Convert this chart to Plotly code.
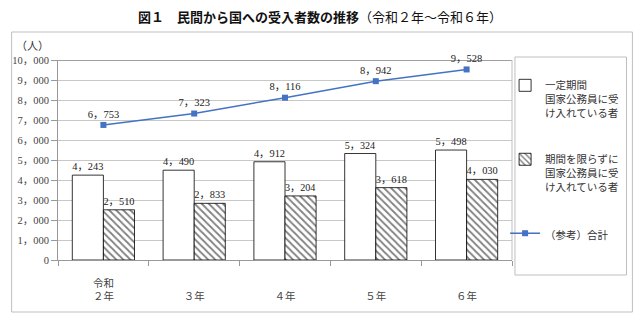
import plotly.graph_objects as go

categories = ["令和２年", "令和３年", "令和４年", "令和５年", "令和６年"]
tick_labels = ["令和<br>２年", "<br>３年", "<br>４年", "<br>５年", "<br>６年"]
fixed_term = [4243, 4490, 4912, 5324, 5498]
open_term = [2510, 2833, 3204, 3618, 4030]
total = [6753, 7323, 8116, 8942, 9528]
y_ticks = list(range(0, 10001, 1000))

name_fixed = "一定期間<br>国家公務員に受<br>け入れている者"
name_open = "期間を限らずに<br>国家公務員に受<br>け入れている者"
name_total = "（参考）合計"

def fmt(v):
    return f"{v:,}".replace(",", "，")

FONT = "Liberation Serif, Noto Sans CJK JP, serif"
CJK = "Noto Sans CJK JP"

fig = go.Figure()
fig.add_trace(go.Bar(
    x=categories, y=fixed_term, name=name_fixed, legendgroup="a",
    marker=dict(color="white", line=dict(color="black", width=0.8)),
    text=[fmt(v) for v in fixed_term], textposition="outside",
    textfont=dict(size=10.5, color="#222", family=FONT), cliponaxis=False,
))
fig.add_trace(go.Bar(
    x=categories, y=open_term, name=name_open, legendgroup="b",
    marker=dict(color="white", line=dict(color="black", width=0.8),
                pattern=dict(shape="\\", fgcolor="black", bgcolor="white", size=5, solidity=0.35)),
    text=[fmt(v) for v in open_term], textposition="outside",
    textfont=dict(size=10.5, color="#222", family=FONT), cliponaxis=False,
))
fig.add_trace(go.Scatter(
    x=categories, y=total, name=name_total, legendgroup="c",
    mode="lines+markers+text",
    line=dict(color="#4472C4", width=1.5),
    marker=dict(symbol="square", size=6, color="#4472C4"),
    text=[fmt(v) for v in total], textposition="top center",
    textfont=dict(size=10.5, color="#222", family=FONT), cliponaxis=False,
))

L, R, T, B = 52, 640 - 512, 60, 321 - 260
def px(x):
    return (x - L) / 460
def py(y):
    return (260 - y) / 200

fig.update_layout(
    width=640, height=321,
    margin=dict(l=L, r=R, t=T, b=B),
    paper_bgcolor="white", plot_bgcolor="white",
    font=dict(family=FONT, size=11, color="#333"),
    barmode="group", bargap=0.315, bargroupgap=0,
    title=dict(
        text="<b>図１　民間から国への受入者数の推移</b><span style='font-weight:normal'>（令和２年～令和６年）</span>",
        x=0.5, xanchor="center", y=1 - 17 / 321, yanchor="middle", yref="container",
        font=dict(family=CJK, size=13, color="#111"),
    ),
    legend=dict(
        x=px(505), xanchor="left", y=py(72), yanchor="top",
        bgcolor="rgba(0,0,0,0)", borderwidth=0,
        font=dict(family=CJK, size=10.5, color="#333"),
        valign="top", tracegroupgap=30, traceorder="grouped",
    ),
    showlegend=True,
    xaxis=dict(
        tickmode="array", tickvals=categories, ticktext=tick_labels,
        tickson="boundaries", ticks="outside", ticklen=5, tickcolor="#999",
        showline=True, linecolor="#999", linewidth=1, showgrid=False,
        tickfont=dict(family=CJK, size=10.5, color="#444"),
        ticklabelstandoff=13,
    ),
    yaxis=dict(
        range=[0, 10000], tickmode="array", tickvals=y_ticks,
        ticktext=[fmt(v) for v in y_ticks],
        ticks="outside", ticklen=6, tickcolor="#999",
        showline=True, linecolor="#999", linewidth=1,
        showgrid=True, gridcolor="#c8c8c8", gridwidth=1,
        tickfont=dict(family=FONT, size=10.5, color="#444"),
        zeroline=False,
    ),
    shapes=[
        dict(type="rect", xref="paper", yref="paper", x0=px(5), x1=px(634), y0=py(312), y1=py(32),
             line=dict(color="#bfbfbf", width=1), layer="below"),
        dict(type="rect", xref="paper", yref="paper", x0=px(515), x1=px(628), y0=py(275), y1=py(57),
             line=dict(color="#bfbfbf", width=1), layer="below"),
        dict(type="line", xref="paper", yref="y", x0=0, x1=1, y0=10000, y1=10000,
             line=dict(color="#404040", width=1)),
        dict(type="line", xref="paper", yref="paper", x0=1, x1=1, y0=0, y1=1,
             line=dict(color="#bfbfbf", width=1)),
    ],
    annotations=[
        dict(text="（人）", xref="paper", yref="paper", x=px(26), y=py(45),
             xanchor="center", yanchor="middle", showarrow=False,
             font=dict(family=CJK, size=11, color="#333")),
    ],
)

fig.write_html("out.html")
